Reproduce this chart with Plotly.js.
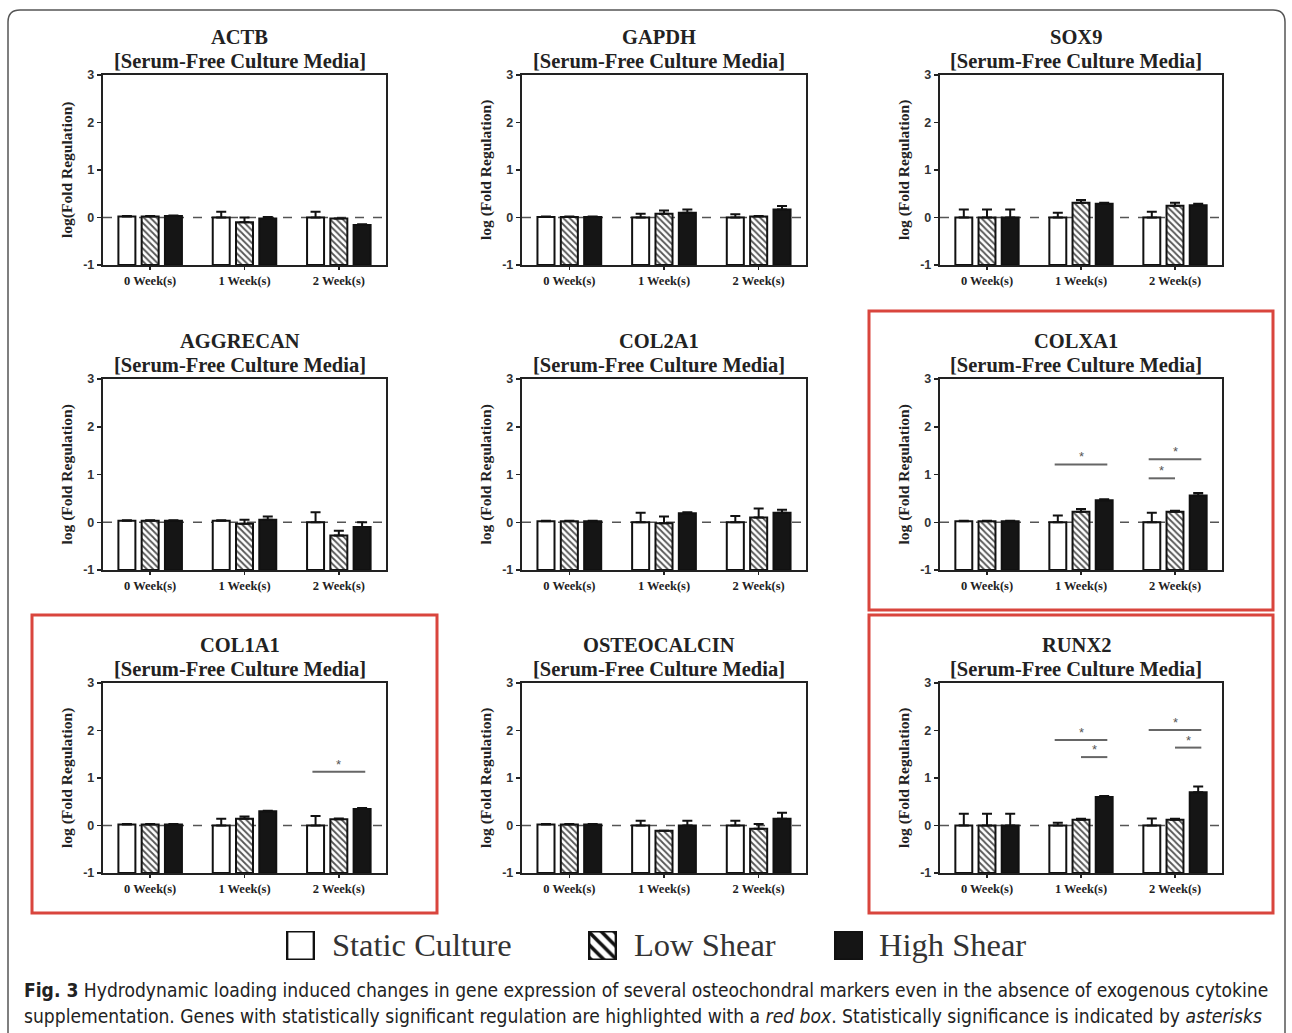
<!DOCTYPE html>
<html>
<head>
<meta charset="utf-8">
<script src="https://cdn.plot.ly/plotly-3.0.1.min.js"></script>
<style>html,body{margin:0;padding:0;background:#fff;}#chart{width:1292px;height:1033px;}</style>
</head>
<body>
<div id="chart"></div>
<script>
// ---------------- DATA ----------------
const weeks = ['0 Week(s)', '1 Week(s)', '2 Week(s)'];
const genes = ['ACTB', 'GAPDH', 'SOX9', 'AGGRECAN', 'COL2A1', 'COLXA1', 'COL1A1', 'OSTEOCALCIN', 'RUNX2'];
const subtitle = '[Serum-Free Culture Media]';
const yTitles = ['log(Fold Regulation)', 'log (Fold Regulation)', 'log (Fold Regulation)',
                 'log (Fold Regulation)', 'log (Fold Regulation)', 'log (Fold Regulation)',
                 'log (Fold Regulation)', 'log (Fold Regulation)', 'log (Fold Regulation)'];
const seriesNames = ['Static Culture', 'Low Shear', 'High Shear'];
const yTickVals = [-1, 0, 1, 2, 3];
const yTickText = ['-1', '0', '1', '2', '3'];

// mean log(fold regulation), rows follow `genes`, columns follow `weeks`
const staticVals = [
  [0.02, 0.00, 0.00],
  [0.01, 0.00, 0.00],
  [0.00, 0.00, 0.00],
  [0.03, 0.03, 0.00],
  [0.02, 0.00, 0.00],
  [0.02, 0.00, 0.00],
  [0.02, 0.00, 0.00],
  [0.02, 0.00, 0.00],
  [0.00, 0.00, 0.00]
];
const staticErr = [
  [0.01, 0.12, 0.12],
  [0.01, 0.08, 0.07],
  [0.17, 0.10, 0.12],
  [0.01, 0.01, 0.21],
  [0.01, 0.20, 0.13],
  [0.01, 0.14, 0.20],
  [0.01, 0.14, 0.20],
  [0.01, 0.10, 0.10],
  [0.25, 0.06, 0.15]
];
const lowVals = [
  [0.02, -0.10, -0.02],
  [0.01, 0.08, 0.02],
  [0.00, 0.31, 0.25],
  [0.03, -0.03, -0.28],
  [0.02, -0.02, 0.10],
  [0.02, 0.22, 0.22],
  [0.02, 0.14, 0.13],
  [0.02, -0.11, -0.07],
  [0.00, 0.12, 0.12]
];
const lowErr = [
  [0.01, 0.10, 0.00],
  [0.01, 0.07, 0.01],
  [0.17, 0.06, 0.06],
  [0.01, 0.08, 0.10],
  [0.01, 0.14, 0.19],
  [0.01, 0.06, 0.02],
  [0.01, 0.05, 0.02],
  [0.01, 0.00, 0.10],
  [0.25, 0.02, 0.02]
];
const highVals = [
  [0.03, -0.02, -0.16],
  [0.01, 0.10, 0.17],
  [0.00, 0.29, 0.26],
  [0.03, 0.05, -0.10],
  [0.02, 0.19, 0.20],
  [0.02, 0.46, 0.56],
  [0.02, 0.30, 0.35],
  [0.02, 0.00, 0.14],
  [0.00, 0.60, 0.70]
];
const highErr = [
  [0.01, 0.03, 0.02],
  [0.01, 0.07, 0.07],
  [0.17, 0.02, 0.03],
  [0.01, 0.07, 0.10],
  [0.01, 0.02, 0.06],
  [0.01, 0.02, 0.05],
  [0.01, 0.01, 0.02],
  [0.01, 0.10, 0.13],
  [0.25, 0.02, 0.12]
];

// significance brackets
const sigGene = ['COLXA1', 'COLXA1', 'COLXA1', 'COL1A1', 'RUNX2', 'RUNX2', 'RUNX2', 'RUNX2'];
const sigWeek = [1, 2, 2, 2, 1, 1, 2, 2];
const sigFrom = [0, 0, 0, 0, 0, 1, 0, 1];   // series index
const sigTo   = [2, 2, 1, 2, 2, 2, 2, 2];
const sigY    = [1.21, 1.32, 0.92, 1.13, 1.80, 1.44, 2.01, 1.64];
const highlighted = ['COLXA1', 'COL1A1', 'RUNX2'];

const captionLine1 = '<b>Fig. 3</b> Hydrodynamic loading induced changes in gene expression of several osteochondral markers even in the absence of exogenous cytokine';
const captionLine2 = 'supplementation. Genes with statistically significant regulation are highlighted with a <i>red box</i>. Statistically significance is indicated by <i>asterisks</i>';

// ---------------- LAYOUT GEOMETRY (pixels) ----------------
const W = 1292, H = 1033;
const colX = [[103, 386], [522, 806], [940, 1222]];
const rowY = [[75, 265], [379, 570], [683, 873]];
const px = v => v / W;
const py = v => 1 - v / H;
const BASE = -1;
const seriesOffset = [-0.28, 0, 0.28];

const serif = 'Liberation Serif, Times New Roman, serif';
const sans = 'Liberation Sans, Arial, sans-serif';
const capFont = 'Liberation Sans Narrow, Arial Narrow, DejaVu Sans Condensed, sans-serif';

const data = [];
const layout = {
  width: W, height: H, autosize: false,
  margin: {l: 0, r: 0, t: 0, b: 0},
  paper_bgcolor: '#fff', plot_bgcolor: '#fff',
  showlegend: false,
  barmode: 'group', bargap: 0.26, bargroupgap: 0.27,
  annotations: [], shapes: []
};

const valsBySeries = [staticVals, lowVals, highVals];
const errBySeries = [staticErr, lowErr, highErr];

genes.forEach((g, i) => {
  const r = Math.floor(i / 3), c = i % 3;
  const ax = i === 0 ? '' : String(i + 1);
  const xref = 'x' + ax, yref = 'y' + ax;
  const xd = [px(colX[c][0]), px(colX[c][1])];
  const yd = [py(rowY[r][1]), py(rowY[r][0])];

  layout['xaxis' + ax] = {
    domain: xd, anchor: yref, type: 'category', range: [-0.5, 2.5],
    showline: true, linecolor: '#222', linewidth: 2.2, mirror: true,
    ticks: 'outside', ticklen: 3, tickwidth: 1.5, tickcolor: '#222',
    showgrid: false, zeroline: false, fixedrange: true,
    tickfont: {family: serif, size: 12.5, color: '#222', weight: 'bold'}
  };
  layout['yaxis' + ax] = {
    domain: yd, anchor: xref, range: [-1, 3], tickvals: yTickVals, ticktext: yTickText,
    showline: true, linecolor: '#222', linewidth: 2.2, mirror: true,
    ticks: 'outside', ticklen: 4, tickwidth: 1.5, tickcolor: '#222',
    showgrid: false, zeroline: false, fixedrange: true,
    tickfont: {family: sans, size: 12.5, color: '#333', weight: 'bold'}
  };

  seriesNames.forEach((s, k) => {
    const vals = valsBySeries[k][i];
    const errs = errBySeries[k][i];
    const marker = {line: {color: '#111', width: 2}};
    if (k === 0) marker.color = '#fff';
    if (k === 1) { marker.color = '#fff'; marker.pattern = {shape: '\\', fgcolor: '#555', bgcolor: '#fff', size: 4.5, solidity: 0.4}; }
    if (k === 2) marker.color = '#151515';
    data.push({
      type: 'bar', name: s, x: weeks, y: vals.map(v => v - BASE), base: BASE,
      xaxis: xref, yaxis: yref, marker: marker, hoverinfo: 'skip',
      error_y: {type: 'data', symmetric: false, array: errs, arrayminus: errs.map(() => 0),
                color: '#111', thickness: 2, width: 5}
    });
  });

  // dashed zero line
  layout.shapes.push({type: 'line', xref: xref + ' domain', yref: yref, x0: 0, x1: 1, y0: 0, y1: 0,
    line: {color: '#555', width: 1.5, dash: 'dash'}, layer: 'below'});

  // titles
  const cx = (colX[c][0] + colX[c][1]) / 2 - 5;
  layout.annotations.push({xref: 'paper', yref: 'paper', x: px(cx), y: py(rowY[r][0] - 38),
    text: g, showarrow: false, xanchor: 'center', yanchor: 'middle',
    font: {family: serif, size: 20.5, color: '#222', weight: 'bold'}});
  layout.annotations.push({xref: 'paper', yref: 'paper', x: px(cx), y: py(rowY[r][0] - 14),
    text: subtitle, showarrow: false, xanchor: 'center', yanchor: 'middle',
    font: {family: serif, size: 20.5, color: '#222', weight: 'bold'}});
  // y-axis title
  layout.annotations.push({xref: 'paper', yref: 'paper', x: px(colX[c][0] - 36), y: py((rowY[r][0] + rowY[r][1]) / 2),
    text: yTitles[i], showarrow: false, textangle: -90, xanchor: 'center', yanchor: 'middle',
    font: {family: serif, size: 15.5, color: '#222', weight: 'bold'}});

  if (highlighted.includes(g)) {
    layout.shapes.push({type: 'rect', xref: 'paper', yref: 'paper',
      x0: px(colX[c][0] - 71), x1: px(colX[c][1] + 51),
      y0: py(rowY[r][1] + 40), y1: py(rowY[r][0] - 68),
      line: {color: '#d9453d', width: 3}, fillcolor: 'rgba(0,0,0,0)'});
  }
});

// significance brackets and asterisks
sigGene.forEach((g, j) => {
  const i = genes.indexOf(g);
  const ax = i === 0 ? '' : String(i + 1);
  const x0 = sigWeek[j] + seriesOffset[sigFrom[j]];
  const x1 = sigWeek[j] + seriesOffset[sigTo[j]];
  layout.shapes.push({type: 'line', xref: 'x' + ax, yref: 'y' + ax, x0: x0, x1: x1, y0: sigY[j], y1: sigY[j],
    line: {color: '#666', width: 2}});
  layout.annotations.push({xref: 'x' + ax, yref: 'y' + ax, x: (x0 + x1) / 2, y: sigY[j], text: '*',
    showarrow: false, yanchor: 'bottom', yshift: -2, font: {family: sans, size: 13, color: '#555'}});
});

// legend icons as tiny subplots
const legendIconX = [[286, 315], [588, 617], [834, 863]];
const legendTextX = [330, 632, 877];
const legendY = [931, 960];
seriesNames.forEach((s, k) => {
  const n = 10 + k;
  layout['xaxis' + n] = {domain: [px(legendIconX[k][0]), px(legendIconX[k][1])], anchor: 'y' + n,
    range: [-0.5, 0.5], visible: false, fixedrange: true};
  layout['yaxis' + n] = {domain: [py(legendY[1]), py(legendY[0])], anchor: 'x' + n,
    range: [0, 1], visible: false, fixedrange: true};
  const marker = {line: {color: '#111', width: 3}};
  if (k === 0) marker.color = '#fff';
  if (k === 1) { marker.color = '#fff'; marker.pattern = {shape: '\\', fgcolor: '#111', bgcolor: '#fff', size: 9, solidity: 0.4}; }
  if (k === 2) marker.color = '#151515';
  data.push({type: 'bar', x: [0], y: [1], width: [0.94], xaxis: 'x' + n, yaxis: 'y' + n,
    marker: marker, hoverinfo: 'skip', showlegend: false});
  layout.annotations.push({xref: 'paper', yref: 'paper', x: px(legendTextX[k]), y: py(945),
    text: s, showarrow: false, xanchor: 'left', yanchor: 'middle',
    font: {family: serif, size: 32.5, color: '#333'}});
});

// caption
layout.annotations.push({xref: 'paper', yref: 'paper', x: px(22), y: py(990), text: captionLine1,
  showarrow: false, xanchor: 'left', yanchor: 'middle', align: 'left',
  font: {family: capFont, size: 19.1, color: '#222'}});
layout.annotations.push({xref: 'paper', yref: 'paper', x: px(22), y: py(1016), text: captionLine2,
  showarrow: false, xanchor: 'left', yanchor: 'middle', align: 'left',
  font: {family: capFont, size: 19.1, color: '#222'}});

// outer rounded border
const bp = (x, y) => px(x) + ',' + py(y);
layout.shapes.push({type: 'path', xref: 'paper', yref: 'paper',
  path: 'M' + bp(8, 1040) + ' L' + bp(8, 22) + ' Q' + bp(8, 10) + ' ' + bp(20, 10) +
        ' L' + bp(1273, 10) + ' Q' + bp(1285, 10) + ' ' + bp(1285, 22) + ' L' + bp(1285, 1040),
  line: {color: '#555', width: 1.5}});

Plotly.newPlot('chart', data, layout, {displayModeBar: false, staticPlot: true});
</script>
</body>
</html>
